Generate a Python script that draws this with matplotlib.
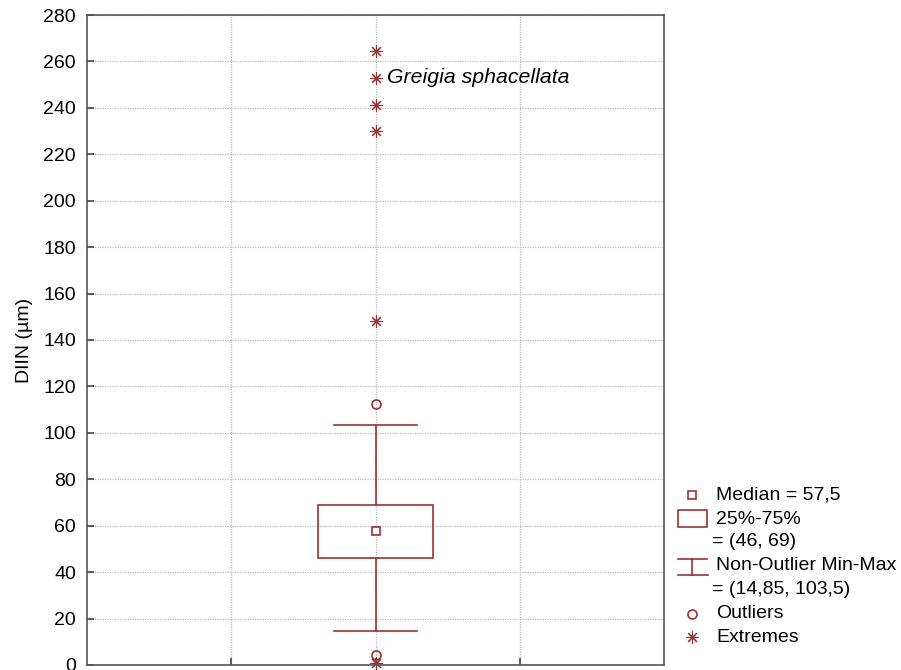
import matplotlib.pyplot as plt
from matplotlib.patches import Rectangle

plt.rcParams['font.family'] = ['Liberation Sans', 'DejaVu Sans']

# box statistics for DIIN
median = 57.5
q1, q3 = 46, 69
whisk_lo, whisk_hi = 14.85, 103.5
outliers = [112.5, 4.3]
extremes = [264.7, 253.0, 241.4, 230.2, 148.3, 0.8]
label_species = 'Greigia sphacellata'
label_value = 253.0

col = '#9a3232'
pos = 2

fig = plt.figure(figsize=(9.01, 6.70), dpi=100)
ax = fig.add_axes([0.0966, 0.0075, 0.6404, 0.9701])

# box
ax.add_patch(Rectangle((pos - 0.4, q1), 0.8, q3 - q1, fill=False, edgecolor=col, lw=1.2))
ax.plot([pos, pos], [q3, whisk_hi], color=col, lw=1.2)
ax.plot([pos, pos], [whisk_lo, q1], color=col, lw=1.2)
ax.plot([pos - 0.285, pos + 0.285], [whisk_hi, whisk_hi], color=col, lw=1.2)
ax.plot([pos - 0.285, pos + 0.285], [whisk_lo, whisk_lo], color=col, lw=1.2)
ax.plot([pos], [median], marker='s', ms=6, mfc='white', mec=col, mew=1.2, ls='none')
ax.plot([pos] * len(outliers), outliers, marker='o', ms=6.5, mfc='none', mec=col, mew=1.2, ls='none', clip_on=False)
ax.plot([pos] * len(extremes), extremes, marker=(8, 2, 0), ms=9, color=col, mew=0.8, ls='none', clip_on=False)
ax.text(pos + 0.08, label_value, label_species, style='italic', fontsize=15.3, va='center', ha='left')

ax.set_xlim(0, 4)
ax.set_ylim(0, 280)
ax.set_xticks([1, 2, 3])
ax.set_xticklabels([])
ax.set_yticks(range(0, 281, 20))
ax.tick_params(axis='both', direction='in', length=5, color='#444444', width=1.2)
ax.tick_params(axis='y', labelsize=14, pad=8)
ax.grid(True, ls=(0, (1, 1)), color='#bbbbbb', lw=0.9)
ax.set_axisbelow(True)
for s in ax.spines.values():
    s.set_color('#555555')
    s.set_linewidth(1.2)
ax.set_ylabel('DIIN (µm)', fontsize=14)
ax.yaxis.set_label_coords(-0.094, 0.5)

# legend drawn by hand at the right side
def fx(px):
    return px / 901

def fy(py):
    return 1 - py / 670

tf = dict(fontsize=14, va='center', ha='left', transform=fig.transFigure)
fig.lines.append(plt.Line2D([fx(692)], [fy(495)], marker='s', ms=6, mfc='white', mec=col, mew=1.2, transform=fig.transFigure))
fig.text(fx(716), fy(495), 'Median = 57,5', **tf)
fig.patches.append(Rectangle((fx(678), fy(527)), fx(29), 17 / 670, fill=False, edgecolor=col, lw=1.2, transform=fig.transFigure))
fig.text(fx(716), fy(519), '25%-75%', **tf)
fig.text(fx(712), fy(542), '= (46, 69)', **tf)
fig.lines.append(plt.Line2D([fx(678), fx(707)], [fy(559), fy(559)], color=col, lw=1.2, transform=fig.transFigure))
fig.lines.append(plt.Line2D([fx(692), fx(692)], [fy(559), fy(575)], color=col, lw=1.2, transform=fig.transFigure))
fig.lines.append(plt.Line2D([fx(678), fx(708)], [fy(575), fy(575)], color=col, lw=1.2, transform=fig.transFigure))
fig.text(fx(716), fy(566), 'Non-Outlier Min-Max', **tf)
fig.text(fx(712), fy(590), '= (14,85, 103,5)', **tf)
fig.lines.append(plt.Line2D([fx(692)], [fy(614)], marker='o', ms=6.5, mfc='none', mec=col, mew=1.2, transform=fig.transFigure))
fig.text(fx(716), fy(613), 'Outliers', **tf)
fig.lines.append(plt.Line2D([fx(692)], [fy(637)], marker=(8, 2, 0), ms=9, color=col, mew=0.8, transform=fig.transFigure))
fig.text(fx(716), fy(637), 'Extremes', **tf)

fig.savefig('out.png', dpi=100)
